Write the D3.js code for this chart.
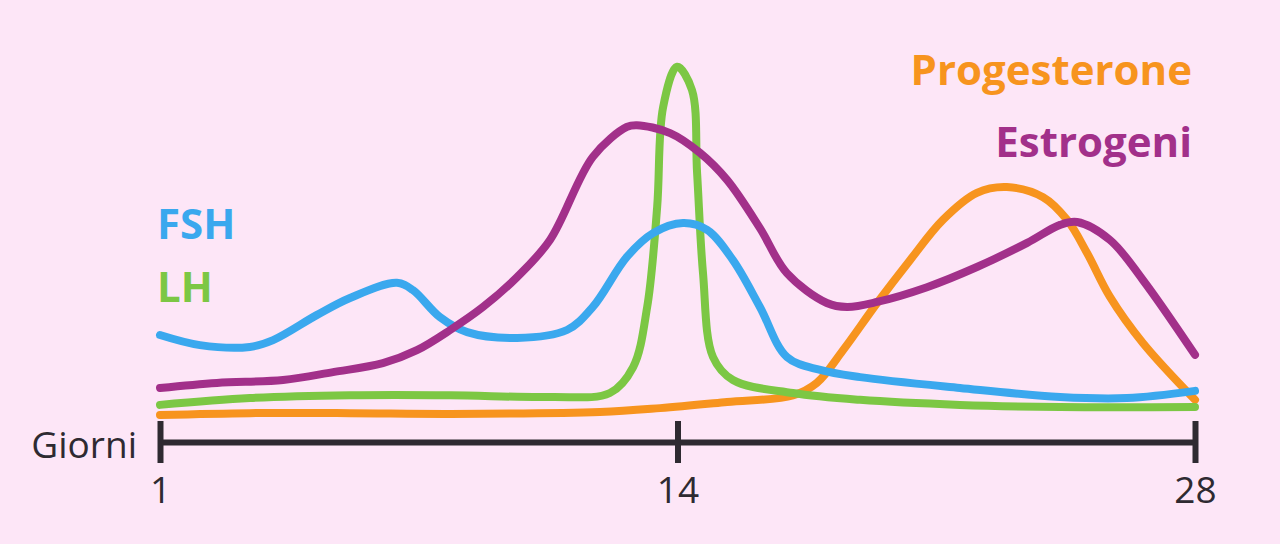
<!DOCTYPE html>
<html>
<head>
<meta charset="utf-8">
<title>Ciclo ormonale</title>
<script src="https://d3js.org/d3.v7.min.js"></script>
<style>
  html, body { margin: 0; padding: 0; background: #fde6f7; }
  svg { display: block; }
  .line { fill: none; stroke-width: 8; stroke-linecap: round; stroke-linejoin: round; }
  .axis text { font-family: "Open Sans", sans-serif; font-size: 37px; fill: #2e2a31; }
  .label { font-family: "Open Sans", sans-serif; font-weight: 700; font-size: 42px; }
</style>
</head>
<body>
<svg width="1280" height="544"></svg>
<script>
// days (0 = day 1 of the cycle, 28 = day 28)
var tickDays = [0, 14, 28];
var tickLabels = ["1", "14", "28"];

var fshDays = [0, 1.08, 2.43, 3.06, 4.25, 5.14, 6.41, 6.84, 7.57, 8.31, 9.66, 11.01, 11.71, 12.63, 13.34, 14.15, 14.8, 15.5, 16.23, 16.96, 17.86, 18.94, 21.64, 24.35, 26.16, 28];
var fshValues = [23.6, 20.8, 20.3, 22.2, 29.2, 33.9, 38.1, 36.1, 28.6, 24.4, 22.8, 25, 31.4, 45.3, 51.9, 54.7, 52.8, 44.4, 31.4, 17.5, 13.9, 11.9, 8.9, 6.4, 6.1, 8.1];

var lhDays = [0, 2.43, 5.14, 7.85, 10.55, 12.17, 12.8, 13.18, 13.45, 13.61, 13.99, 14.39, 14.53, 14.69, 14.96, 15.5, 17.12, 18.94, 21.64, 24.35, 28];
var lhValues = [4.2, 6.1, 6.9, 6.9, 6.4, 7.5, 14.7, 31.4, 59.2, 86.9, 98.1, 91.7, 68.6, 40.8, 17.5, 11.1, 7.5, 5.6, 4.2, 3.6, 3.6];

var estDays = [0, 1.54, 3.33, 4.68, 6.03, 6.95, 7.85, 8.74, 9.66, 10.55, 11.71, 12.63, 12.9, 13.8, 14.61, 15.34, 16.23, 16.96, 18.04, 18.59, 19.4, 20.75, 22.1, 23.46, 24.35, 24.81, 25.7, 26.59, 28];
var estValues = [8.9, 10.3, 11.1, 13.3, 15.8, 19.4, 25, 31.4, 39.7, 50, 73.1, 81.4, 81.9, 79.7, 74.2, 66.7, 53.3, 40.8, 32.5, 31.4, 32.8, 36.9, 42.5, 49.2, 54.2, 55, 50, 38.9, 18.1];

var progDays = [0, 2.43, 5.14, 7.85, 11.9, 13.53, 15.34, 17.12, 17.77, 18.48, 19.4, 20.29, 21.18, 22.1, 22.91, 23.89, 24.54, 25.08, 25.7, 26.59, 28];
var progValues = [1.4, 1.9, 1.9, 1.7, 2.2, 3.3, 5, 6.8, 10.3, 19.4, 32.5, 44.4, 55.6, 63.1, 64.7, 61.9, 55.6, 46.4, 34.2, 21.4, 5.6];

var seriesNames = ["FSH", "LH", "Estrogeni", "Progesterone"];
var seriesColors = ["#3aa8ee", "#7cc744", "#a2308a", "#f7941e"];

var svg = d3.select("svg");

var x = d3.scaleLinear().domain([0, 28]).range([160, 1195]);
var y = d3.scaleLinear().domain([0, 100]).range([420, 60]);

var series = [
  { days: fshDays, values: fshValues },
  { days: lhDays, values: lhValues },
  { days: estDays, values: estValues },
  { days: progDays, values: progValues }
];

var line = d3.line()
  .x(function(d) { return x(d[0]); })
  .y(function(d) { return y(d[1]); })
  .curve(d3.curveCatmullRom.alpha(0.5));

// stacking as in the reference: orange behind, purple on top
var order = [3, 1, 0, 2];
order.forEach(function(i) {
  var pts = series[i].days.map(function(d, j) { return [d, series[i].values[j]]; });
  svg.append("path")
    .attr("class", "line")
    .attr("stroke", seriesColors[i])
    .attr("d", line(pts));
});

// x axis
var axis = d3.axisBottom(x)
  .tickValues(tickDays)
  .tickFormat(function(d, i) { return tickLabels[i]; })
  .tickSize(21)
  .tickSizeOuter(0)
  .tickPadding(14);

var gx = svg.append("g")
  .attr("class", "axis")
  .attr("transform", "translate(0,442)")
  .call(axis);

gx.select(".domain").attr("stroke", "#2e2a31").attr("stroke-width", 6);
gx.selectAll(".tick line")
  .attr("stroke", "#2e2a31")
  .attr("stroke-width", 6)
  .attr("y1", -21);

svg.append("text")
  .attr("x", 137)
  .attr("y", 458)
  .attr("text-anchor", "end")
  .style("font-family", "'Open Sans', sans-serif")
  .style("font-size", "37px")
  .style("fill", "#2e2a31")
  .text("Giorni");

// labels
var labelPos = [
  { x: 157, y: 239, anchor: "start" },
  { x: 157, y: 302, anchor: "start" },
  { x: 1192, y: 157, anchor: "end" },
  { x: 1192, y: 85, anchor: "end" }
];
seriesNames.forEach(function(name, i) {
  svg.append("text")
    .attr("class", "label")
    .attr("x", labelPos[i].x)
    .attr("y", labelPos[i].y)
    .attr("text-anchor", labelPos[i].anchor)
    .attr("fill", seriesColors[i])
    .text(name);
});
</script>
</body>
</html>
